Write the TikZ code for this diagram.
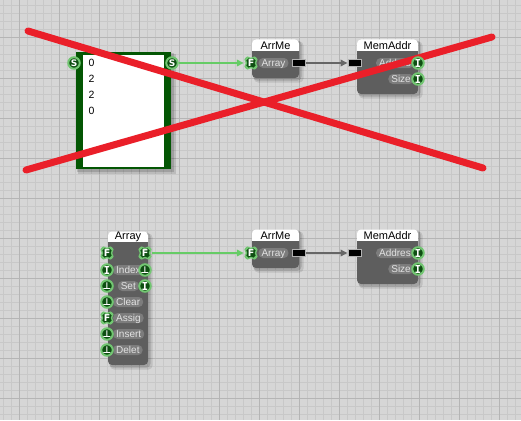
\documentclass[tikz,border=0pt]{standalone}
\usepackage{fontspec}
\setmainfont{Liberation Sans}
\newfontfamily\djv{DejaVu Sans}
\newfontfamily\djvm{DejaVu Sans Mono}
\usetikzlibrary{arrows.meta}
\pgfdeclarelayer{under}
\pgfsetlayers{under,main}
\definecolor{bgc}{HTML}{D6D6D6}
\definecolor{minorc}{HTML}{C8C8C8}
\definecolor{majorc}{HTML}{B5B5B5}
\definecolor{bodyc}{HTML}{5E5E5E}
\definecolor{pillc}{HTML}{7C7C7C}
\definecolor{labc}{HTML}{E2E2E2}
\definecolor{pdark}{HTML}{0E4E12}
\definecolor{pring}{HTML}{72C672}
\definecolor{framec}{HTML}{035603}
\definecolor{linkg}{HTML}{66CC66}
\definecolor{linkk}{HTML}{666666}
\definecolor{redx}{HTML}{EA1F29}
\newcommand\boneshape{plot[smooth cycle, tension=0.5] coordinates {(3.6,6.6)(6.6,3.6)(5.2,0)(6.6,-3.6)(3.6,-6.6)(0,-5.2)(-3.6,-6.6)(-6.6,-3.6)(-5.2,0)(-6.6,3.6)(-3.6,6.6)(0,5.2)}}
\newcommand\fportat[3]{%
  \begin{scope}[shift={(#2,#3)}]
    \fill[pring] \boneshape;
    \fill[pdark, scale=0.7] \boneshape;
  \end{scope}
  \node[fport] (#1) at (#2,#3) {F};
}
\newcommand\blockbox[5]{%
  \fill[black, opacity=0.10, rounded corners=4pt] (#1+2,#3+2) rectangle (#2+4.5,#5+4.5);
  \fill[black, opacity=0.14, rounded corners=4pt] (#1+1,#3+1) rectangle (#2+2.5,#5+2.5);
  \fill[white, rounded corners=4pt] (#1,#3) rectangle (#2,#4+4);
  \fill[bodyc, rounded corners=4pt] (#1,#4) rectangle (#2,#5);
  \fill[bodyc] (#1,#4) rectangle (#2,#4+6);
}
\tikzset{
  port/.style={circle, fill=pdark, draw=pring, line width=2pt, minimum size=11.5pt, inner sep=0pt, text=white},
  sport/.style={port, font=\djv\bfseries\fontsize{9}{9}\selectfont},
  iport/.style={port, font=\djvm\bfseries\fontsize{11}{11}\selectfont},
  tport/.style={port, font=\djv\bfseries\fontsize{9.5}{9.5}\selectfont},
  fport/.style={rectangle, minimum size=14pt, inner sep=0pt, text=white,
    font=\djv\bfseries\fontsize{9.5}{9.5}\selectfont},
  blkport/.style={rectangle, fill=black, draw=gray!60, line width=1pt, minimum width=13pt, minimum height=6.5pt, inner sep=0pt},
  pill/.style={fill=pillc, rounded corners=4.5pt, minimum height=10pt, inner xsep=3pt, inner ysep=0pt,
    text=labc, font=\fontsize{10}{10}\selectfont, text height=7pt, text depth=0pt},
  title/.style={font=\fontsize{11}{11}\selectfont, inner sep=0pt, text=black},
  num/.style={font=\fontsize{10.5}{10.5}\selectfont, inner sep=0pt, text=black, anchor=west},
  glink/.style={draw=linkg, line width=1.8pt, -{Triangle[length=7pt,width=6.5pt]}},
  klink/.style={draw=linkk, line width=1.8pt, -{Triangle[length=7pt,width=6.5pt]}},
  redline/.style={draw=redx, line width=7pt, line cap=round},
}
\begin{document}
\begin{tikzpicture}[x=1pt, y=-1pt]
\useasboundingbox (0,0) rectangle (521,420);
% ---- ports (main layer, on top) ----
\node[sport] (s1) at (74,63) {S};
\node[sport] (s2) at (172,63) {S};
\fportat{fa1}{251}{63}
\node[blkport] (ao1) at (299,63) {};
\node[blkport] (mi1) at (354.5,63) {};
\node[iport] (ma1) at (418,63) {I};
\node[iport] (ms1) at (418,79) {I};
% bottom
\fportat{arf}{107}{253}
\fportat{arfo}{145}{253}
\node[iport] (ari) at (107,270) {I};
\node[tport] (arto) at (145,270) {⊥};
\node[tport] (arset) at (107,286) {⊥};
\node[iport] (ario) at (145,286) {I};
\node[tport] (arclr) at (107,302) {⊥};
\fportat{arasg}{107}{318}
\node[tport] (arins) at (107,334) {⊥};
\node[tport] (ardel) at (107,350) {⊥};
\fportat{fa2}{251}{253}
\node[blkport] (ao2) at (299,253) {};
\node[blkport] (mi2) at (354.5,253) {};
\node[iport] (ma2) at (418,253) {I};
\node[iport] (ms2) at (418,269) {I};
\begin{pgfonlayer}{under}
% background grid
\fill[bgc] (0,0) rectangle (521,420);
\foreach \x in {3,11,...,515} \draw[minorc, line width=1pt] (\x,0) -- (\x,420);
\foreach \y in {6,14,...,414} \draw[minorc, line width=1pt] (0,\y) -- (521,\y);
\foreach \x in {19,59,...,499} \draw[majorc, line width=1pt] (\x,0) -- (\x,420);
\foreach \y in {38,78,...,398} \draw[majorc, line width=1pt] (0,\y) -- (521,\y);
% text box
\fill[black, opacity=0.12] (78,54) rectangle (175.5,173.5);
\fill[black, opacity=0.14] (77,53) rectangle (173.5,171.5);
\fill[framec] (76,52) rectangle (171,169);
\fill[white] (83,54.5) rectangle (164,166.5);
\node[num] (n1) at (88.5,63) {0};
\node[num] (n2) at (88.5,79) {2};
\node[num] (n3) at (88.5,95) {2};
\node[num] (n4) at (88.5,111) {0};
% blocks
\blockbox{252}{299}{39.5}{51}{78}
\node[title] (t1) at (275.5,45.3) {ArrMe};
\node[pill] (l1) at (273.5,63) {Array};
\blockbox{357}{418}{39.5}{51}{94}
\node[title] (t2) at (387.5,45.3) {MemAddr};
\node[pill, anchor=east] (l2) at (414,63) {Addres};
\node[pill, anchor=east] (l3) at (414,79) {Size};
\blockbox{252}{299}{229.5}{241}{268}
\node[title] (t3) at (275.5,235.3) {ArrMe};
\node[pill] (l4) at (273.5,253) {Array};
\blockbox{357}{418}{229.5}{241}{284}
\node[title] (t4) at (387.5,235.3) {MemAddr};
\node[pill, anchor=east] (l5) at (414,253) {Addres};
\node[pill, anchor=east] (l6) at (414,269) {Size};
\blockbox{108}{148}{231.5}{242}{365}
\node[title] (t5) at (128,236.8) {Array};
\node[pill, anchor=west] (l7) at (113,270) {Index};
\node[pill, anchor=east] (l8) at (139,286) {Set};
\node[pill, anchor=west] (l9) at (113,302) {Clear};
\node[pill, anchor=west] (l10) at (113,318) {Assig};
\node[pill, anchor=west] (l11) at (113,334) {Insert};
\node[pill, anchor=west] (l12) at (113,350) {Delet};
% connectors
\draw[glink] (s2.east) -- (fa1.west);
\draw[klink] (ao1.east) -- (mi1.west);
\draw[glink] (arfo.east) -- (fa2.west);
\draw[klink] (ao2.east) -- (mi2.west);
% red cross
\coordinate (r1a) at (28,31);
\coordinate (r1b) at (483,168);
\coordinate (r2a) at (26,170);
\coordinate (r2b) at (492,37);
\draw[redline] (r1a) -- (r1b);
\draw[redline] (r2a) -- (r2b);
\end{pgfonlayer}
\end{tikzpicture}
\end{document}
